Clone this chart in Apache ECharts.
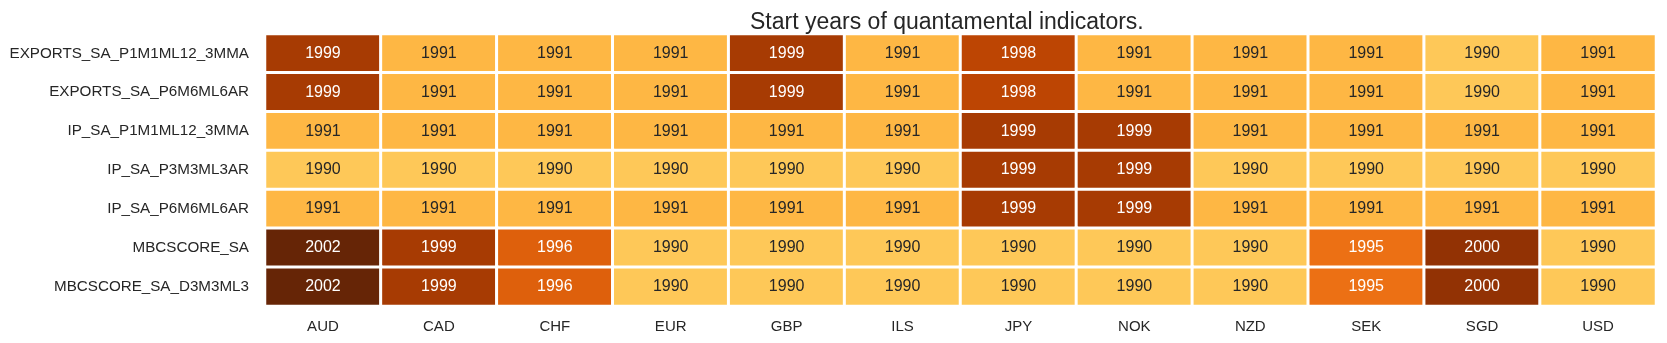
<!DOCTYPE html>
<html><head><meta charset="utf-8">
<script src="https://cdn.jsdelivr.net/npm/echarts@6/dist/echarts.min.js"></script>
<style>html,body{margin:0;padding:0;background:#fff}#c{width:1667px;height:343px}</style>
</head><body><div id="c"></div>
<script>
const currencies = ["AUD","CAD","CHF","EUR","GBP","ILS","JPY","NOK","NZD","SEK","SGD","USD"];
const indicators = ["EXPORTS_SA_P1M1ML12_3MMA","EXPORTS_SA_P6M6ML6AR","IP_SA_P1M1ML12_3MMA","IP_SA_P3M3ML3AR","IP_SA_P6M6ML6AR","MBCSCORE_SA","MBCSCORE_SA_D3M3ML3"];
const exportsP1M1 = [1999,1991,1991,1991,1999,1991,1998,1991,1991,1991,1990,1991];
const exportsP6M6 = [1999,1991,1991,1991,1999,1991,1998,1991,1991,1991,1990,1991];
const ipP1M1 = [1991,1991,1991,1991,1991,1991,1999,1999,1991,1991,1991,1991];
const ipP3M3 = [1990,1990,1990,1990,1990,1990,1999,1999,1990,1990,1990,1990];
const ipP6M6 = [1991,1991,1991,1991,1991,1991,1999,1999,1991,1991,1991,1991];
const mbcscore = [2002,1999,1996,1990,1990,1990,1990,1990,1990,1995,2000,1990];
const mbcscoreD3 = [2002,1999,1996,1990,1990,1990,1990,1990,1990,1995,2000,1990];
const rows = [exportsP1M1, exportsP6M6, ipP1M1, ipP3M3, ipP6M6, mbcscore, mbcscoreD3];

const data = [];
rows.forEach((r, yi) => r.forEach((v, xi) => {
  data.push({value: [xi, yi, v], label: {color: v >= 1995 ? '#ffffff' : '#262626'}});
}));

const FONT = 'Liberation Sans, Arial, sans-serif';
const chart = echarts.init(document.getElementById('c'), null, {renderer: 'canvas'});
chart.setOption({
  animation: false,
  textStyle: {fontFamily: FONT},
  title: {
    text: 'Start years of quantamental indicators.',
    left: 745, top: 6,
    textStyle: {fontSize: 23, fontWeight: 'normal', color: '#262626', fontFamily: FONT}
  },
  grid: {left: 265, right: 11, top: 34, bottom: 37},
  xAxis: {
    type: 'category', data: currencies,
    axisLine: {show: false}, axisTick: {show: false}, splitLine: {show: false},
    axisLabel: {fontSize: 15, color: '#262626', margin: 13, fontFamily: FONT}
  },
  yAxis: {
    type: 'category', data: indicators, inverse: true,
    axisLine: {show: false}, axisTick: {show: false}, splitLine: {show: false},
    axisLabel: {fontSize: 15.2, color: '#262626', margin: 16, fontFamily: FONT}
  },
  visualMap: {
    show: false, type: 'continuous', min: 1983.3, max: 2002, dimension: 2,
    inRange: {color: ['#ffffe5','#fff7bc','#fee391','#fec44f','#fe9929','#ec7014','#cc4c02','#993404','#662506']}
  },
  series: [{
    type: 'heatmap', data: data,
    label: {show: true, fontSize: 16, fontFamily: FONT, formatter: p => String(p.value[2])},
    itemStyle: {borderColor: '#ffffff', borderWidth: 3}
  }]
});
</script></body></html>
